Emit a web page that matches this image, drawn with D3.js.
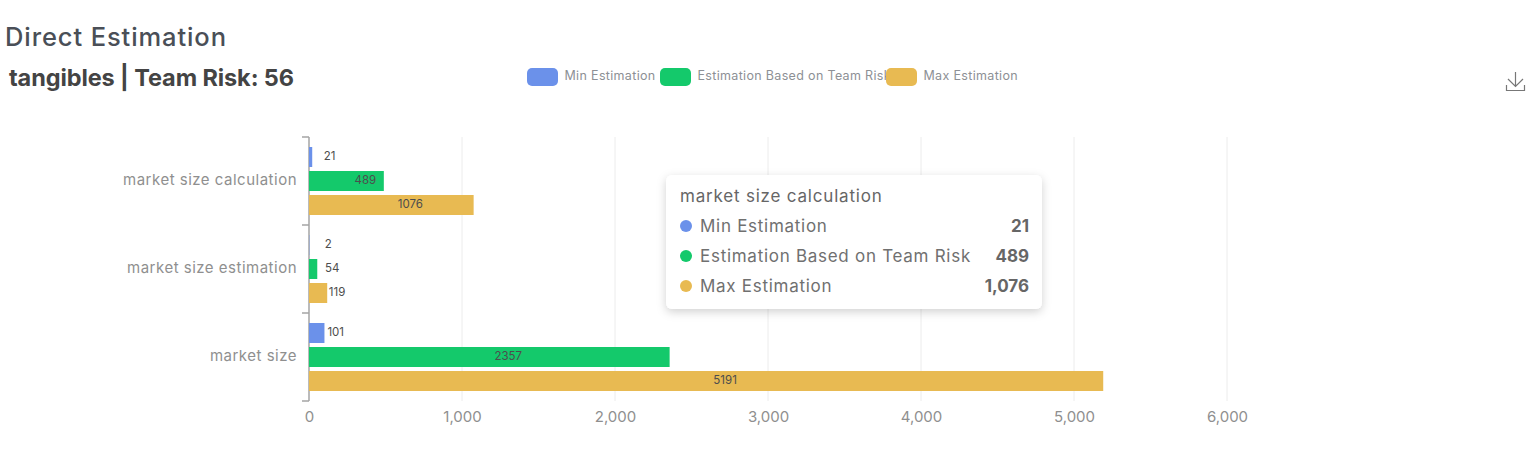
<!DOCTYPE html>
<html>
<head>
<meta charset="utf-8">
<script src="https://cdn.jsdelivr.net/npm/d3@7"></script>
<style>
  html, body { margin: 0; padding: 0; background: #fff; overflow: hidden; }
  text { font-family: Inter, "Noto Sans", sans-serif; }
  .tick text { font-size: 15px; fill: #8f8f8f; }
  .yAxis .tick text { letter-spacing: 0.5px; }
  .gridline { stroke: #ececec; }
</style>
</head>
<body>
<div id="chart"></div>
<script>
var categories = ['market size calculation', 'market size estimation', 'market size'];
var seriesNames = ['Min Estimation', 'Estimation Based on Team Risk', 'Max Estimation'];
var minEstimation = [21, 2, 101];
var teamRiskEstimation = [489, 54, 2357];
var maxEstimation = [1076, 119, 5191];
var seriesValues = [minEstimation, teamRiskEstimation, maxEstimation];
var colors = ['#6b91ea', '#14c96b', '#e8ba52'];
var xTicks = [0, 1000, 2000, 3000, 4000, 5000, 6000];

var width = 1537;
var height = 468;

var svg = d3.select('#chart')
  .append('svg')
  .attr('width', width)
  .attr('height', height);

var x = d3.scaleLinear().domain([0, 6000]).range([309, 1227]);
var y = d3.scaleBand().domain(categories).range([137, 401]);
var yInner = d3.scaleBand().domain(seriesNames).range([10, 78]).paddingInner(1 / 6);

// titles
svg.append('text').attr('x', 5).attr('y', 46)
  .style('font-size', '25.5px').style('font-weight', 500).style('letter-spacing', '0.9px')
  .attr('fill', '#4a4f57')
  .text('Direct Estimation');
svg.append('text').attr('x', 9).attr('y', 86)
  .style('font-size', '23.5px').style('font-weight', 700).style('letter-spacing', '-0.1px')
  .attr('fill', '#444')
  .text('tangibles | Team Risk: 56');

// grid
svg.selectAll('.gridline')
  .data(xTicks.slice(1))
  .enter()
  .append('line')
  .attr('class', 'gridline')
  .attr('x1', d => x(d)).attr('x2', d => x(d))
  .attr('y1', 137).attr('y2', 401);

// axes
var xAxis = d3.axisBottom(x).tickValues(xTicks).tickSize(0).tickPadding(10).tickFormat(d3.format(','));
svg.append('g')
  .attr('transform', 'translate(0,401)')
  .call(xAxis)
  .call(g => g.select('.domain').remove());

var yAxisGroup = svg.append('g')
  .attr('class', 'yAxis')
  .attr('transform', 'translate(309,0)')
  .call(d3.axisLeft(y).tickSize(0).tickPadding(12));
yAxisGroup.select('.domain').remove();
yAxisGroup.selectAll('.tick text').attr('dy', '0.28em');
yAxisGroup.append('line')
  .attr('y1', 137).attr('y2', 401)
  .attr('stroke', '#a5a5a5').attr('stroke-width', 1.5);
yAxisGroup.selectAll('.sep')
  .data(y.domain().map(d => y(d)).concat([y.range()[1]]))
  .enter()
  .append('line')
  .attr('x1', -7).attr('x2', 0)
  .attr('y1', d => d).attr('y2', d => d)
  .attr('stroke', '#a5a5a5').attr('stroke-width', 1.5);

// bars
var rows = [];
categories.forEach(function(c, i) {
  seriesNames.forEach(function(s, j) {
    rows.push({ cat: c, name: s, value: seriesValues[j][i], color: colors[j] });
  });
});

svg.selectAll('.bar')
  .data(rows)
  .enter()
  .append('rect')
  .attr('class', 'bar')
  .attr('x', x(0))
  .attr('y', d => y(d.cat) + yInner(d.name))
  .attr('width', d => x(d.value) - x(0))
  .attr('height', yInner.bandwidth())
  .attr('fill', d => d.color);

// value labels sit a fixed distance right of the bar middle
svg.selectAll('.barLabel')
  .data(rows)
  .enter()
  .append('text')
  .attr('class', 'barLabel')
  .attr('x', d => (x(0) + x(d.value)) / 2 + 19)
  .attr('y', d => y(d.cat) + yInner(d.name) + yInner.bandwidth() / 2 + 3)
  .attr('text-anchor', 'middle')
  .style('font-size', '11.5px')
  .attr('fill', '#4d4d4d')
  .text(d => d.value);

// legend
var legendX = [527, 660, 886];
var legend = svg.selectAll('.legendItem')
  .data(seriesNames)
  .enter()
  .append('g')
  .attr('class', 'legendItem')
  .attr('transform', (d, i) => 'translate(' + legendX[i] + ',68)');
legend.append('text')
  .attr('x', 37.5).attr('y', 12)
  .style('font-size', '12.5px').style('letter-spacing', '0.33px')
  .attr('fill', '#8d9095')
  .text(d => d);
legend.append('rect')
  .attr('width', 31).attr('height', 18).attr('rx', 5)
  .attr('fill', (d, i) => colors[i]);

// download icon
var icon = svg.append('g')
  .attr('transform', 'translate(1506,72)')
  .attr('fill', 'none')
  .attr('stroke', '#777')
  .attr('stroke-width', 1.2);
icon.append('path').attr('d', 'M9.5 0V14M2 7L9.5 14.5L17 7');
icon.append('path').attr('d', 'M0.5 13V18.5H18.5V13');

// tooltip
var defs = svg.append('defs');
var shadow = defs.append('filter').attr('id', 'tipShadow')
  .attr('x', '-10%').attr('y', '-15%').attr('width', '120%').attr('height', '135%');
shadow.append('feDropShadow')
  .attr('dx', 0).attr('dy', 3).attr('stdDeviation', 5)
  .attr('flood-color', '#000').attr('flood-opacity', 0.18);

var tip = svg.append('g').attr('transform', 'translate(666,175)');
tip.append('rect')
  .attr('width', 376).attr('height', 134).attr('rx', 6)
  .attr('fill', '#fff').attr('filter', 'url(#tipShadow)');
tip.append('text').attr('x', 14).attr('y', 27)
  .style('font-size', '17px').style('letter-spacing', '0.8px').attr('fill', '#666')
  .text(categories[0]);
var tipRow = tip.selectAll('.tipRow')
  .data(seriesNames)
  .enter()
  .append('g')
  .attr('class', 'tipRow')
  .attr('transform', (d, i) => 'translate(0,' + (51 + i * 30) + ')');
tipRow.append('circle')
  .attr('cx', 20).attr('r', 6)
  .attr('fill', (d, i) => colors[i]);
tipRow.append('text')
  .attr('x', 34).attr('y', 6)
  .style('font-size', '17px').style('letter-spacing', '0.72px').attr('fill', '#707070')
  .text(d => d);
tipRow.append('text')
  .attr('x', 363).attr('y', 6)
  .attr('text-anchor', 'end')
  .style('font-size', '17px').style('font-weight', 700).attr('fill', '#666')
  .text((d, i) => d3.format(',')(seriesValues[i][0]));
</script>
</body>
</html>
